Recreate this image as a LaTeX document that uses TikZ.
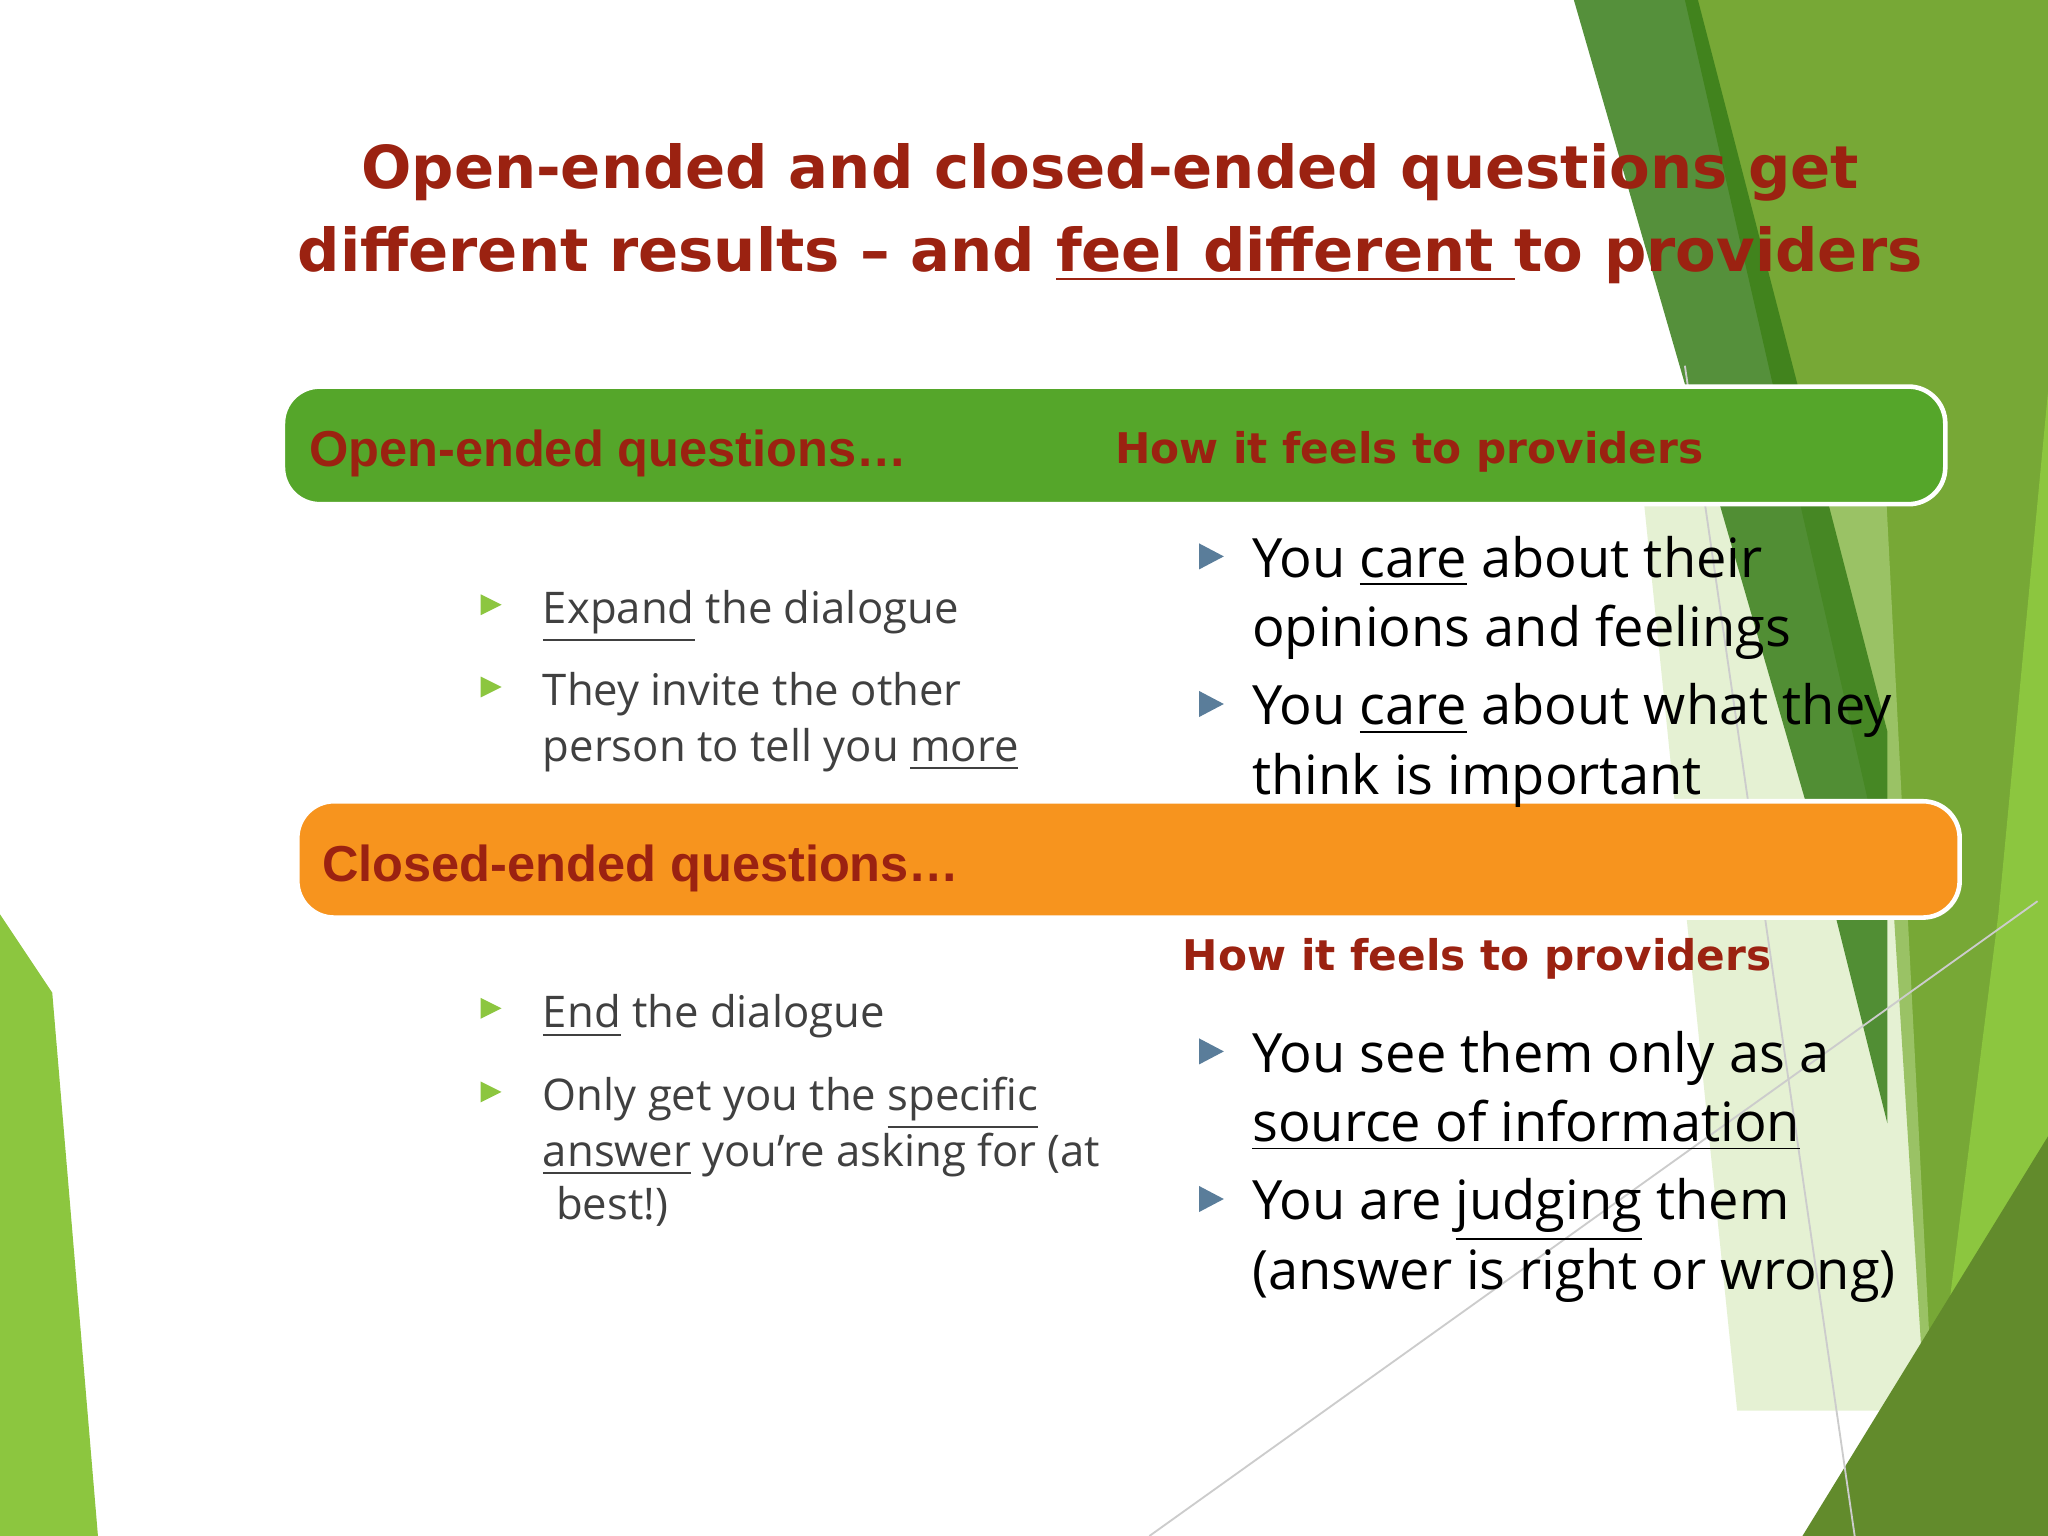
\documentclass[tikz,border=0pt]{standalone}
\usepackage{fontspec}
\setmainfont{DejaVu Sans}
\newfontfamily\arialf{Liberation Sans}
\newfontfamily\bodyf{Open Sans}
\definecolor{ttl}{HTML}{9B2211}
\definecolor{gbox}{HTML}{55A62A}
\definecolor{obox}{HTML}{F7941E}
\definecolor{gtxt}{HTML}{404040}
\definecolor{bul}{HTML}{8CC63F}
\definecolor{bul2}{HTML}{5A7D9A}
\tikzset{
 ln/.style={anchor=base west,inner sep=0},
 ttlstyle/.style={ln,anchor=base,text=ttl,font=\fontsize{12.9}{16}\bfseries},
 hdr/.style={ln,text=ttl,font=\fontsize{9.2}{11}\bfseries},
 lt/.style={ln,text=gtxt,font=\bodyf\fontsize{9.5}{12}\selectfont},
 rt/.style={ln,text=black,font=\bodyf\fontsize{11.8}{15}\selectfont},
 tri/.style={fill=bul},
 tri2/.style={fill=bul2},
 band/.style={draw=white,line width=1pt,rounded corners=8pt,inner sep=0}
}
\begin{document}
\begin{tikzpicture}[x=0.01cm,y=-0.01cm]
\useasboundingbox (0,0) rectangle (1568,1176);
\fill[white] (0,0) rectangle (1568,1176);
% background shapes
\fill[bul!85!black] (1290,0) -- (1568,0) -- (1568,1176) -- (1480,1176) -- (1450,700) -- cycle;
\fill[bul!50!white,opacity=0.45] (1250,300) -- (1440,300) -- (1480,1080) -- (1330,1080) -- cycle;
\fill[green!30!black!60!bul,opacity=0.85] (1205,0) -- (1300,0) -- (1445,560) -- (1445,860) -- (1390,640) -- cycle;
\fill[bul] (1568,300) -- (1568,900) -- (1470,1176) -- (1530,700) -- cycle;
\fill[bul!70!black] (1380,1176) -- (1568,870) -- (1568,1176) -- cycle;
\fill[bul] (0,700) -- (40,760) -- (75,1176) -- (0,1176) -- cycle;
\draw[gray!40] (880,1176) -- (1560,690);
\draw[gray!40] (1290,280) -- (1420,1176);
% title
\node[ttlstyle] (t1) at (850,144) {Open-ended and closed-ended questions get};
\node[ttlstyle] (t2) at (850,208) {different results – and \underline{feel different }to providers};
% boxes
\node[band,fill=gbox,minimum width=12.72cm,minimum height=0.9cm] (gb) at (853,341) {};
\node[band,fill=obox,minimum width=12.72cm,minimum height=0.89cm] (ob) at (864,658) {};
\node[hdr,font=\arialf\fontsize{11}{13}\bfseries\selectfont] (h1) at (236,357) {Open-ended questions…};
\node[hdr] (h2) at (853,355) {How it feels to providers};
\node[hdr,font=\arialf\fontsize{11}{13}\bfseries\selectfont] (h3) at (246,675) {Closed-ended questions…};
\node[hdr] (h4) at (905,743) {How it feels to providers};
% left bullets
\foreach \y in {466,529,775,839} \fill[tri] (368,\y-11) -- (384,\y-3) -- (368,\y+5) -- cycle;
\node[lt] (a1) at (415,477) {\underline{Expand} the dialogue};
\node[lt] (a2) at (415,540) {They invite the other};
\node[lt] (a3) at (415,583) {person to tell you \underline{more}};
\node[lt] (b1) at (415,787) {\underline{End} the dialogue};
\node[lt] (b2) at (415,850) {Only get you the \underline{specific}};
\node[lt] (b3) at (415,893) {\underline{answer} you’re asking for (at};
\node[lt] (b4) at (425,934) { best!)};
% right bullets
\foreach \y in {426,539,805,918} \fill[tri2] (918,\y-10) -- (937,\y) -- (918,\y+10) -- cycle;
\node[rt] (c1) at (958,442) {You \underline{care} about their};
\node[rt] (c2) at (958,495) {opinions and feelings};
\node[rt] (c3) at (958,555) {You \underline{care} about what they};
\node[rt] (c4) at (958,608) {think is important};
\node[rt] (d1) at (958,821) {You see them only as a};
\node[rt] (d2) at (958,874) {\underline{source of information}};
\node[rt] (d3) at (958,934) {You are \underline{judging} them};
\node[rt] (d4) at (958,987) {(answer is right or wrong)};
\end{tikzpicture}
\end{document}
